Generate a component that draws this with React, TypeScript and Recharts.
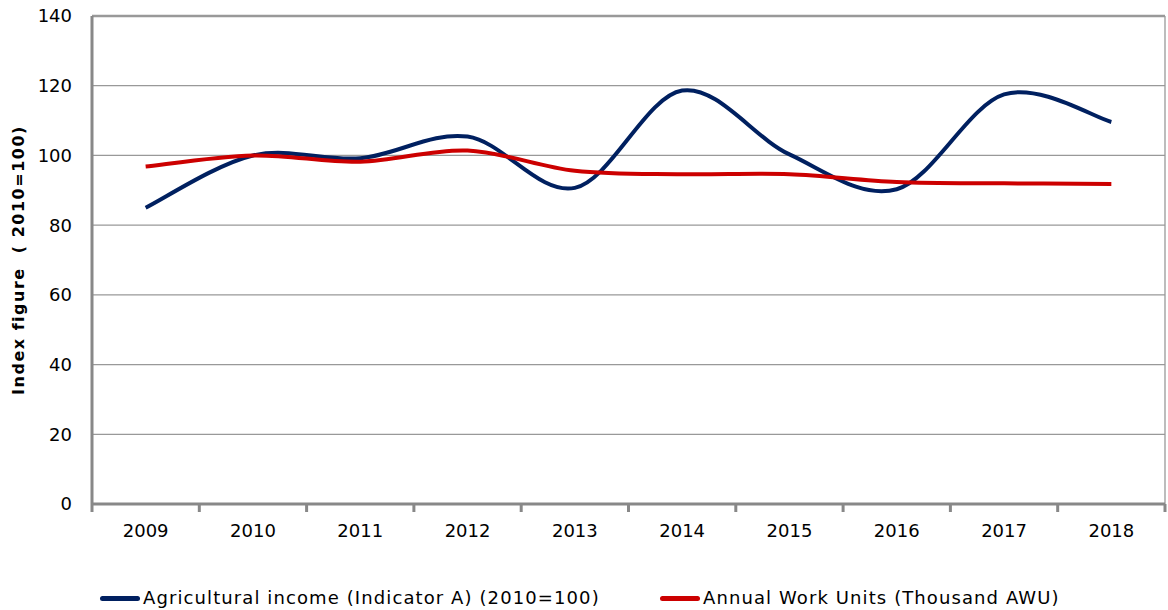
import React from 'react';
import { LineChart, Line, XAxis, YAxis, CartesianGrid, ReferenceLine } from 'recharts';

const years = ['2009', '2010', '2011', '2012', '2013', '2014', '2015', '2016', '2017', '2018'];
const incomeIndex = [85, 100, 99.2, 105.4, 90.7, 118.6, 100.3, 90.3, 117.5, 109.6];
const workUnits = [96.8, 100, 98.2, 101.4, 95.6, 94.6, 94.6, 92.4, 92.0, 91.8];
const yTicks = [0, 20, 40, 60, 80, 100, 120, 140];
const edgeTicks = [0, 1, 2, 3, 4, 5, 6, 7, 8, 9, 10];

const W = 1168;
const H = 610;
const M = { top: 16, right: 3, bottom: 76, left: 0 };
const Y_W = 92;
const HALF_BAND = (W - M.right - M.left - Y_W) / years.length / 2;

const FONT = '"DejaVu Sans", Verdana, sans-serif';
const NAVY = '#002060';
const RED = '#CC0000';
const GRID = '#999999';
const AXIS = '#888888';

const data = years.map((year, i) => ({
  pos: i + 0.5,
  year,
  income: incomeIndex[i],
  awu: workUnits[i],
}));

// Excel-style smoothing (uniform Catmull-Rom through the points)
const excelSmooth = (context: any) => {
  let pts: number[][] = [];
  return {
    areaStart() {},
    areaEnd() {},
    lineStart() {
      pts = [];
    },
    point(x: number, y: number) {
      pts.push([+x, +y]);
    },
    lineEnd() {
      if (!pts.length) return;
      context.moveTo(pts[0][0], pts[0][1]);
      for (let i = 0; i < pts.length - 1; i++) {
        const p0 = pts[i - 1] || pts[i];
        const p1 = pts[i];
        const p2 = pts[i + 1];
        const p3 = pts[i + 2] || p2;
        context.bezierCurveTo(
          p1[0] + (p2[0] - p0[0]) / 6,
          p1[1] + (p2[1] - p0[1]) / 6,
          p2[0] - (p3[0] - p1[0]) / 6,
          p2[1] - (p3[1] - p1[1]) / 6,
          p2[0],
          p2[1]
        );
      }
    },
  };
};

const YearTick = (props: any) => {
  const { x, y, payload } = props;
  const i = payload.value;
  if (i >= years.length) return null;
  return (
    <text x={x + HALF_BAND} y={y + 23} textAnchor="middle" fontSize={18} fontFamily={FONT} fill="#000">
      {years[i]}
    </text>
  );
};

const LegendItem = ({ color, label, left }: { color: string; label: string; left: number }) => (
  <div style={{ position: 'absolute', left, top: 586, height: 24, display: 'flex', alignItems: 'center' }}>
    <div style={{ width: 40, height: 5, background: color, borderRadius: 2.5 }} />
    <span
      style={{
        fontFamily: FONT,
        fontSize: 18,
        letterSpacing: 1.1,
        lineHeight: '24px',
        color: '#000',
        marginLeft: 3,
        whiteSpace: 'nowrap',
      }}
    >
      {label}
    </span>
  </div>
);

export default function App() {
  return (
    <div style={{ position: 'absolute', left: 0, top: 0, width: W, height: H, background: '#fff' }}>
      <LineChart width={W} height={H} data={data} margin={M}>
        <CartesianGrid horizontal vertical={false} stroke={GRID} strokeWidth={1.3} />
        <XAxis
          dataKey="pos"
          type="number"
          domain={[0, 10]}
          ticks={edgeTicks}
          interval={0}
          height={30}
          axisLine={{ stroke: AXIS, strokeWidth: 3 }}
          tickLine={{ stroke: AXIS, strokeWidth: 3 }}
          tickSize={8}
          tick={<YearTick />}
        />
        <YAxis
          domain={[0, 140]}
          ticks={yTicks}
          width={Y_W}
          axisLine={{ stroke: AXIS, strokeWidth: 3 }}
          tickLine={false}
          tickSize={0}
          tickMargin={20}
          tick={{ fontSize: 18, fontFamily: FONT, fill: '#000' }}
          label={{
            content: () => (
              <text
                transform="translate(24,260) rotate(-90)"
                textAnchor="middle"
                fontSize={16}
                fontWeight="bold"
                fontFamily={FONT}
                letterSpacing={1.5}
                fill="#000"
                style={{ whiteSpace: 'pre' }}
              >
                {'Index figure  ( 2010=100)'}
              </text>
            ),
          }}
        />
        <ReferenceLine y={140} stroke={GRID} strokeWidth={2.5} />
        <ReferenceLine x={10} stroke={GRID} strokeWidth={1.3} />
        <Line
          dataKey="income"
          type={excelSmooth as any}
          stroke={NAVY}
          strokeWidth={4}
          dot={false}
          activeDot={false}
          isAnimationActive={false}
        />
        <Line
          dataKey="awu"
          type={excelSmooth as any}
          stroke={RED}
          strokeWidth={4}
          dot={false}
          activeDot={false}
          isAnimationActive={false}
        />
      </LineChart>
      <LegendItem color={NAVY} label="Agricultural income (Indicator A) (2010=100)" left={100} />
      <LegendItem color={RED} label="Annual Work Units (Thousand AWU)" left={660} />
    </div>
  );
}
